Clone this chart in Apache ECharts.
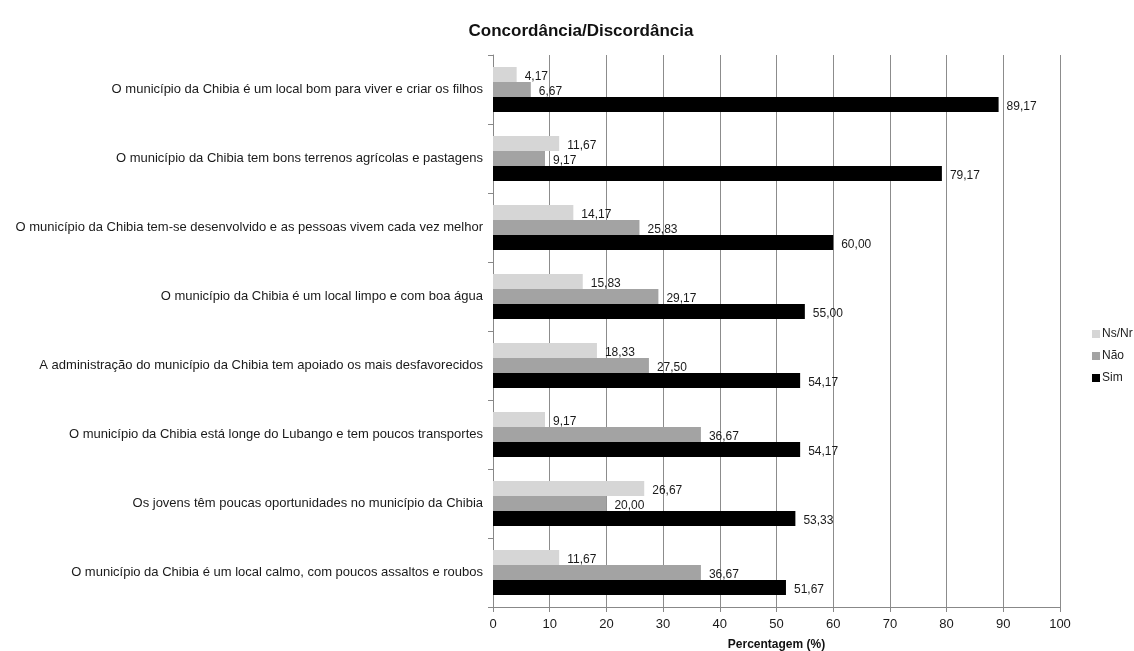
<!DOCTYPE html>
<html>
<head>
<meta charset="utf-8">
<script src="https://cdn.jsdelivr.net/npm/echarts@6/dist/echarts.min.js"></script>
<style>
  html, body { margin: 0; padding: 0; background: #fff; }
  #chart { width: 1134px; height: 651px; }
</style>
</head>
<body>
<div id="chart"></div>
<script>
// Survey statements (top to bottom)
const categories = [
  'O município da Chibia é um local bom para viver e criar os filhos',
  'O município da Chibia tem bons terrenos agrícolas e pastagens',
  'O município da Chibia tem-se desenvolvido e as pessoas vivem cada vez melhor',
  'O município da Chibia é um local limpo e com boa água',
  'A administração do município da Chibia tem apoiado os mais desfavorecidos',
  'O município da Chibia está longe do Lubango e tem poucos transportes',
  'Os jovens têm poucas oportunidades no município da Chibia',
  'O município da Chibia é um local calmo, com poucos assaltos e roubos'
];

// Percentage of answers per statement
const nsNr = [4.17, 11.67, 14.17, 15.83, 18.33, 9.17, 26.67, 11.67];
const nao  = [6.67, 9.17, 25.83, 29.17, 27.50, 36.67, 20.00, 36.67];
const sim  = [89.17, 79.17, 60.00, 55.00, 54.17, 54.17, 53.33, 51.67];

const xTicks = [0, 10, 20, 30, 40, 50, 60, 70, 80, 90, 100];

const font = "'Liberation Sans', sans-serif";

const fmt = v => v.toFixed(2).replace('.', ',');

function barSeries(name, data, color) {
  return {
    name: name,
    type: 'bar',
    data: data,
    barWidth: 15,
    barGap: '0%',
    itemStyle: { color: color },
    label: {
      show: true,
      position: 'right',
      distance: 8,
      offset: [0, 2],
      color: '#1a1a1a',
      fontFamily: font,
      fontSize: 12,
      formatter: p => fmt(p.value)
    }
  };
}

const chart = echarts.init(document.getElementById('chart'));
chart.setOption({
  animation: false,
  backgroundColor: '#fff',
  title: {
    text: 'Concordância/Discordância',
    left: 576,
    textAlign: 'center',
    top: 18,
    textStyle: { fontFamily: font, fontSize: 17, fontWeight: 'bold', color: '#111' }
  },
  legend: {
    orient: 'vertical',
    left: 1087,
    top: 323,
    itemWidth: 8,
    itemHeight: 8,
    itemGap: 10,
    icon: 'rect',
    textStyle: { fontFamily: font, fontSize: 12, color: '#222', padding: [0, 0, 0, -3] },
    data: ['Ns/Nr', 'Não', 'Sim']
  },
  grid: { left: 493, right: 74, top: 55, bottom: 44, outerBoundsMode: 'none' },
  xAxis: {
    type: 'value',
    min: xTicks[0],
    max: xTicks[xTicks.length - 1],
    interval: 10,
    name: 'Percentagem (%)',
    nameLocation: 'middle',
    nameGap: 32,
    nameTextStyle: { fontFamily: font, fontSize: 12, fontWeight: 'bold', color: '#111' },
    axisLine: { show: true, lineStyle: { color: '#888', width: 1 } },
    axisTick: { show: true, length: 5, lineStyle: { color: '#888' } },
    axisLabel: { fontFamily: font, fontSize: 13, color: '#1a1a1a', margin: 11 },
    splitLine: { show: true, lineStyle: { color: '#8c8c8c', width: 1 } }
  },
  yAxis: {
    type: 'category',
    data: categories,
    inverse: true,
    axisLine: { show: true, lineStyle: { color: '#888', width: 1 } },
    axisTick: { show: true, length: 5, lineStyle: { color: '#888' } },
    axisLabel: { fontFamily: font, fontSize: 13, color: '#1a1a1a', margin: 10 }
  },
  series: [
    barSeries('Ns/Nr', nsNr, '#d6d6d6'),
    barSeries('Não', nao, '#a3a3a3'),
    barSeries('Sim', sim, '#000000')
  ]
});
</script>
</body>
</html>
